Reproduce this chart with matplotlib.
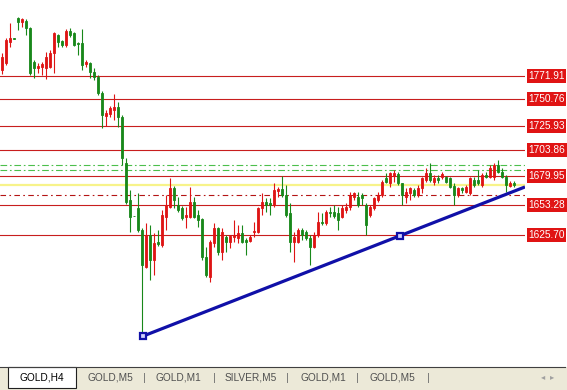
import numpy as np
import matplotlib.pyplot as plt
from matplotlib.patches import Rectangle

plt.rcParams['font.family'] = ['Liberation Sans', 'DejaVu Sans']

# GOLD H4 candles: open, high, low, close
aberturas = [1777.4, 1783.6, 1803.4, 1806.8, 1825.0, 1821.8, 1822.8, 1815.8, 1785.0, 1779.0,
             1780.4, 1779.2, 1780.4, 1792.8, 1809.6, 1804.4, 1800.4, 1813.6, 1811.7, 1802.0,
             1802.0, 1782.9, 1783.6, 1775.8, 1771.2, 1756.2, 1735.1, 1736.9, 1740.6, 1743.6,
             1734.2, 1691.8, 1657.8, 1643.5, 1650.4, 1630.2, 1596.4, 1625.6, 1602.6, 1619.2,
             1616.4, 1642.4, 1651.4, 1668.8, 1653.2, 1650.4, 1642.2, 1642.2, 1656.0, 1644.0,
             1640.3, 1605.4, 1587.0, 1618.2, 1632.0, 1610.2, 1623.8, 1619.4, 1624.0, 1622.8,
             1627.4, 1621.0, 1620.4, 1628.6, 1628.6, 1650.2, 1656.2, 1655.3, 1653.2, 1666.4,
             1667.6, 1662.4, 1645.6, 1619.4, 1619.4, 1630.2, 1628.6, 1622.6, 1614.8, 1625.6,
             1637.8, 1636.4, 1647.0, 1646.8, 1645.6, 1642.4, 1648.6, 1651.6, 1660.8, 1660.8,
             1662.4, 1653.2, 1644.0, 1650.2, 1657.8, 1662.4, 1677.8, 1673.2, 1679.9, 1681.7,
             1673.2, 1660.8, 1664.0, 1667.0, 1662.4, 1668.6, 1676.2, 1682.9, 1674.6, 1677.8,
             1678.7, 1678.7, 1677.8, 1670.7, 1662.4, 1668.6, 1665.4, 1664.0, 1676.2, 1676.2,
             1671.6, 1680.8, 1679.2, 1679.2, 1690.0, 1683.8, 1679.2, 1670.7, 1673.7]
maximas = [1793.0, 1806.8, 1820.9, 1807.0, 1826.4, 1825.2, 1824.0, 1817.2, 1786.6, 1783.6,
           1785.0, 1794.0, 1795.8, 1812.6, 1810.5, 1805.0, 1814.8, 1815.8, 1812.6, 1803.4,
           1814.8, 1786.6, 1785.0, 1779.0, 1772.8, 1758.1, 1740.6, 1744.3, 1755.3, 1748.2,
           1736.0, 1696.4, 1667.0, 1643.6, 1664.2, 1632.0, 1636.6, 1634.8, 1627.4, 1630.2,
           1648.6, 1662.4, 1678.0, 1670.7, 1660.6, 1652.3, 1651.4, 1669.8, 1660.6, 1648.6,
           1641.2, 1614.6, 1621.0, 1636.6, 1633.2, 1632.0, 1625.6, 1625.6, 1639.4, 1634.8,
           1634.8, 1622.8, 1625.6, 1637.8, 1651.6, 1664.0, 1659.4, 1659.6, 1673.4, 1670.0,
           1679.9, 1671.6, 1654.8, 1628.6, 1632.0, 1632.0, 1630.2, 1625.6, 1628.6, 1647.0,
           1645.6, 1648.6, 1651.6, 1653.2, 1651.4, 1653.2, 1654.8, 1665.4, 1665.4, 1665.4,
           1664.5, 1654.8, 1653.2, 1660.8, 1665.4, 1676.2, 1682.4, 1683.8, 1685.4, 1683.8,
           1673.7, 1668.6, 1670.0, 1668.6, 1671.6, 1679.2, 1687.0, 1691.6, 1680.8, 1680.8,
           1683.8, 1679.9, 1679.2, 1673.2, 1670.0, 1670.0, 1671.6, 1679.2, 1678.7, 1685.4,
           1682.4, 1683.8, 1690.0, 1691.6, 1694.6, 1687.0, 1680.8, 1675.6, 1675.6]
minimas = [1773.7, 1782.0, 1798.8, 1806.0, 1814.2, 1817.2, 1809.6, 1772.8, 1769.8, 1774.4,
           1772.8, 1769.1, 1779.0, 1774.4, 1798.8, 1798.8, 1798.3, 1808.0, 1799.5, 1791.2,
           1777.4, 1780.4, 1769.8, 1768.2, 1754.4, 1724.0, 1725.9, 1734.2, 1731.4, 1725.2,
           1690.0, 1654.1, 1628.6, 1642.8, 1628.6, 1532.7, 1595.2, 1584.2, 1588.8, 1615.5,
           1614.6, 1630.2, 1650.4, 1650.4, 1646.8, 1639.4, 1632.0, 1641.2, 1641.2, 1633.0,
           1602.6, 1587.0, 1582.4, 1614.6, 1607.2, 1602.6, 1610.2, 1613.6, 1619.4, 1618.2,
           1618.2, 1607.2, 1619.4, 1624.0, 1627.2, 1644.0, 1647.0, 1644.0, 1651.6, 1660.8,
           1660.3, 1642.4, 1610.2, 1600.8, 1618.0, 1621.0, 1621.0, 1598.0, 1613.4, 1624.0,
           1634.8, 1634.8, 1642.4, 1641.2, 1630.2, 1641.0, 1645.6, 1648.6, 1657.8, 1651.6,
           1653.2, 1625.6, 1642.4, 1648.6, 1656.2, 1660.8, 1673.2, 1670.0, 1674.6, 1671.6,
           1653.2, 1654.8, 1657.8, 1660.8, 1660.8, 1664.0, 1674.6, 1674.6, 1671.6, 1673.2,
           1676.8, 1673.2, 1668.6, 1653.2, 1660.8, 1664.0, 1664.0, 1662.4, 1670.0, 1671.6,
           1670.0, 1677.8, 1677.8, 1676.2, 1682.4, 1677.8, 1665.4, 1669.5, 1669.5]
fechamentos = [1789.6, 1805.0, 1806.6, 1806.2, 1821.8, 1824.0, 1815.8, 1774.4, 1779.0, 1781.1,
               1782.6, 1789.4, 1793.3, 1811.2, 1803.4, 1800.4, 1813.6, 1809.6, 1800.4, 1801.7,
               1782.0, 1785.0, 1775.8, 1771.2, 1756.0, 1736.0, 1738.1, 1742.2, 1743.6, 1734.4,
               1696.4, 1656.0, 1642.4, 1642.9, 1630.2, 1598.0, 1625.6, 1602.6, 1618.2, 1617.3,
               1644.0, 1653.2, 1668.8, 1657.8, 1648.6, 1641.2, 1644.0, 1656.0, 1642.2, 1639.4,
               1605.4, 1588.8, 1619.2, 1632.0, 1610.2, 1628.6, 1619.4, 1624.7, 1625.6, 1627.4,
               1619.4, 1619.4, 1623.8, 1629.6, 1650.2, 1656.2, 1653.2, 1653.2, 1667.0, 1667.6,
               1662.4, 1644.0, 1619.4, 1624.0, 1630.2, 1625.6, 1622.6, 1614.8, 1625.6, 1637.8,
               1636.4, 1647.0, 1645.6, 1643.1, 1639.4, 1650.2, 1651.6, 1662.4, 1664.0, 1653.2,
               1659.4, 1634.8, 1651.6, 1659.4, 1662.4, 1674.6, 1674.6, 1682.4, 1682.4, 1673.2,
               1662.4, 1665.4, 1668.6, 1662.4, 1668.6, 1677.8, 1682.9, 1676.2, 1677.8, 1676.2,
               1681.7, 1674.6, 1670.0, 1662.4, 1668.6, 1667.0, 1670.0, 1677.8, 1671.6, 1673.2,
               1680.8, 1679.2, 1687.0, 1690.0, 1683.8, 1679.2, 1671.6, 1673.7, 1671.6]

# horizontal levels
niveis = [1771.91, 1750.76, 1725.93, 1703.86, 1679.95, 1653.28, 1625.70]
niveis_verdes = [1690.1, 1685.4]
nivel_amarelo = 1672.1
nivel_tracejado = 1662.5

# trend line anchors (bar index, price)
tendencia_x = [35.25, 99.5]
tendencia_y = [1532.7, 1625.0]

abas = ['GOLD,H4', 'GOLD,M5', 'GOLD,M1', 'SILVER,M5', 'GOLD,M1', 'GOLD,M5']

vermelho = '#de1414'
verde = '#18881a'

fig = plt.figure(figsize=(5.67, 3.9), dpi=100)
ax = fig.add_axes([0, 23 / 390, 525 / 567, 367 / 390])
ax.set_xlim(-0.5, 130.75)
ax.set_ylim(1504.3, 1841.8)
ax.axis('off')

# level lines
for n in niveis:
    ax.axhline(n, color='#c81e1e', linewidth=0.8, zorder=1)
    ax.text(1.006, n, '%.2f' % n, transform=ax.get_yaxis_transform(), color='white',
            fontsize=7.3, ha='left', va='center', clip_on=False,
            bbox=dict(boxstyle='square,pad=0.16', fc='#e01414', ec='none'))
for n in niveis_verdes:
    ax.axhline(n, color='#4cbf4c', linewidth=0.8, dashes=(6, 2.5, 1.5, 2.5), zorder=1)
ax.axhline(nivel_amarelo, color='#f7f38a', linewidth=1.6, zorder=1)
ax.axhline(nivel_tracejado, color='#b41414', linewidth=0.8, dashes=(5, 3, 1.5, 3), zorder=1)

# candles
o = np.array(aberturas)
h = np.array(maximas)
l = np.array(minimas)
c = np.array(fechamentos)
x = np.arange(len(o))
cores = np.where(c >= o, vermelho, verde)

ax.vlines(x, l, h, colors=cores, linewidth=0.8, zorder=2)
ax.bar(x, np.abs(c - o), bottom=np.minimum(o, c), width=0.62, color=cores,
       edgecolor=cores, linewidth=0.6, zorder=3)

# trend line, extended to the right edge
inclinacao = (tendencia_y[1] - tendencia_y[0]) / (tendencia_x[1] - tendencia_x[0])
x_fim = ax.get_xlim()[1]
ax.plot([tendencia_x[0], x_fim],
        [tendencia_y[0], tendencia_y[0] + inclinacao * (x_fim - tendencia_x[0])],
        color='#1010a8', linewidth=2.3, solid_capstyle='butt', zorder=4)
ax.plot(tendencia_x, tendencia_y, 's', markersize=5, mfc='#d0d0ff', mec='#1010a8',
        mew=1.6, zorder=5)

# tab bar
fig.patches.append(Rectangle((0, 0), 1, 23 / 390, transform=fig.transFigure,
                             fc='#ece9d8', ec='none'))
fig.add_artist(plt.Line2D([0, 565 / 567], [23 / 390, 23 / 390], color='#404040',
                          linewidth=0.8, transform=fig.transFigure))
fig.patches.append(Rectangle((8 / 567, 2 / 390), 68 / 567, 21 / 390, transform=fig.transFigure,
                             fc='white', ec='#202020', linewidth=0.8))
posicoes = [42, 110, 178, 251, 323, 392]
for i, aba in enumerate(abas):
    fig.text(posicoes[i] / 567, 12 / 390, aba, fontsize=7.3, ha='center', va='center',
             color='black' if i == 0 else '#505050')
    if i > 0:
        fig.text((posicoes[i] + (posicoes[i + 1] - posicoes[i]) / 2 if i < 5 else 428) / 567,
                 12 / 390, '|', fontsize=8, ha='center', va='center', color='#707070')
fig.text(543 / 567, 12 / 390, '\u25c2', fontsize=6, ha='center', va='center', color='#a0a0a0')
fig.text(552 / 567, 12 / 390, '\u25b8', fontsize=6, ha='center', va='center', color='#a0a0a0')

fig.savefig('out.png', dpi=100, facecolor='white')
